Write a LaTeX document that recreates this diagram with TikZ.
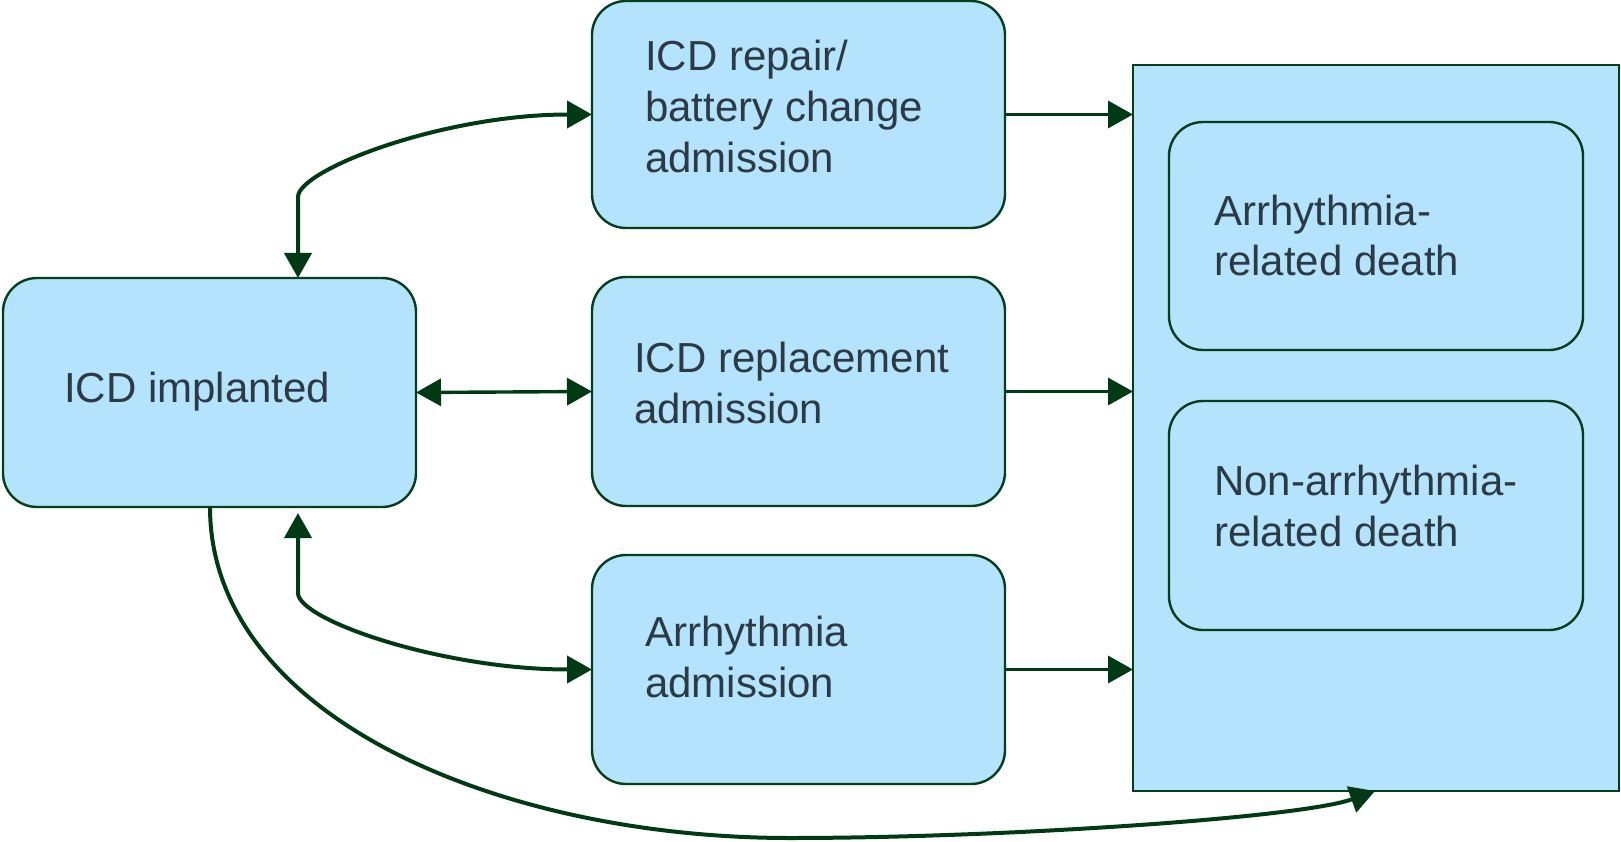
\documentclass[tikz,border=0pt]{standalone}
\usepackage{fontspec}
\setmainfont{Liberation Sans}
\usetikzlibrary{arrows.meta,calc}
\definecolor{boxfill}{HTML}{B3E3FD}
\definecolor{edge}{HTML}{033F1A}
\definecolor{arrowink}{HTML}{003A14}
\definecolor{ink}{HTML}{2D3A44}
\begin{document}
\begin{tikzpicture}[x=1pt,y=-1pt,
  box/.style={draw=edge, fill=boxfill, line width=2.4pt, rounded corners=34pt,
    inner sep=0pt, outer sep=0pt},
  frame/.style={draw=edge, fill=boxfill, line width=2.4pt, inner sep=0pt, outer sep=0pt},
  % base west sits on the baseline of the last line of a label
  lbl/.style={anchor=base west, text=ink, inner sep=0pt,
    font=\fontsize{42}{51}\selectfont, align=left},
  conn/.style={draw=arrowink, line width=4pt},
  straight/.style={conn, line width=3.4pt},
  >={Triangle[length=25pt,width=27pt]},
]
\useasboundingbox (0,0) rectangle (1621,842);

% state boxes
\node[box, minimum width=413pt, minimum height=229pt] (impl) at (209.5,392.5) {};
\node[box, minimum width=413pt, minimum height=227pt] (repair) at (798.5,114.5) {};
\node[box, minimum width=413pt, minimum height=229pt] (repl) at (798.5,391.5) {};
\node[box, minimum width=413pt, minimum height=229pt] (arr) at (798.5,669.5) {};

% absorbing death states
\node[frame, minimum width=486pt, minimum height=726pt] (outer) at (1376,428) {};
\node[box, minimum width=414pt, minimum height=228pt] (ard) at (1376,236) {};
\node[box, minimum width=414pt, minimum height=229pt] (nad) at (1376,515.5) {};

% labels
\node[lbl] (timpl) at (64,402) {ICD implanted};
\node[lbl] (trepair) at (645,173) {ICD repair/\\battery change\\admission};
\node[lbl] (trepl) at (634,423) {ICD replacement\\admission};
\node[lbl] (tarr) at (645,697) {Arrhythmia\\admission};
\node[lbl] (tard) at (1214,276) {Arrhythmia-\\related death};
\node[lbl] (tnad) at (1214,546) {Non-arrhythmia-\\related death};

% transitions between implant and admissions
\draw[conn,<->] ($(impl.north west)+(295,0)$) -- ++(0,-81)
  .. controls +(0,-27) and +(-150,0) .. (repair.west);
\draw[straight,<->] (impl.east) -- (repl.west);
\draw[conn,<->] ($(impl.south west)+(295,6)$) -- ++(0,80)
  .. controls +(0,27) and +(-150,0) .. (arr.west);

% transitions into death
\draw[straight,->] (repair.east) -- (repair.east -| outer.west);
\draw[straight,->] (repl.east) -- (repl.east -| outer.west);
\draw[straight,->] (arr.east) -- (arr.east -| outer.west);
\coordinate (deathin) at ($(outer.south west)+(242,0)$);
\draw[conn,->] ($(impl.south west)+(207,0)$)
  .. controls +(0,210) and +(-290,0) .. (790,838)
  .. controls +(210,0) and +(-75,27) .. (deathin);
\end{tikzpicture}
\end{document}
